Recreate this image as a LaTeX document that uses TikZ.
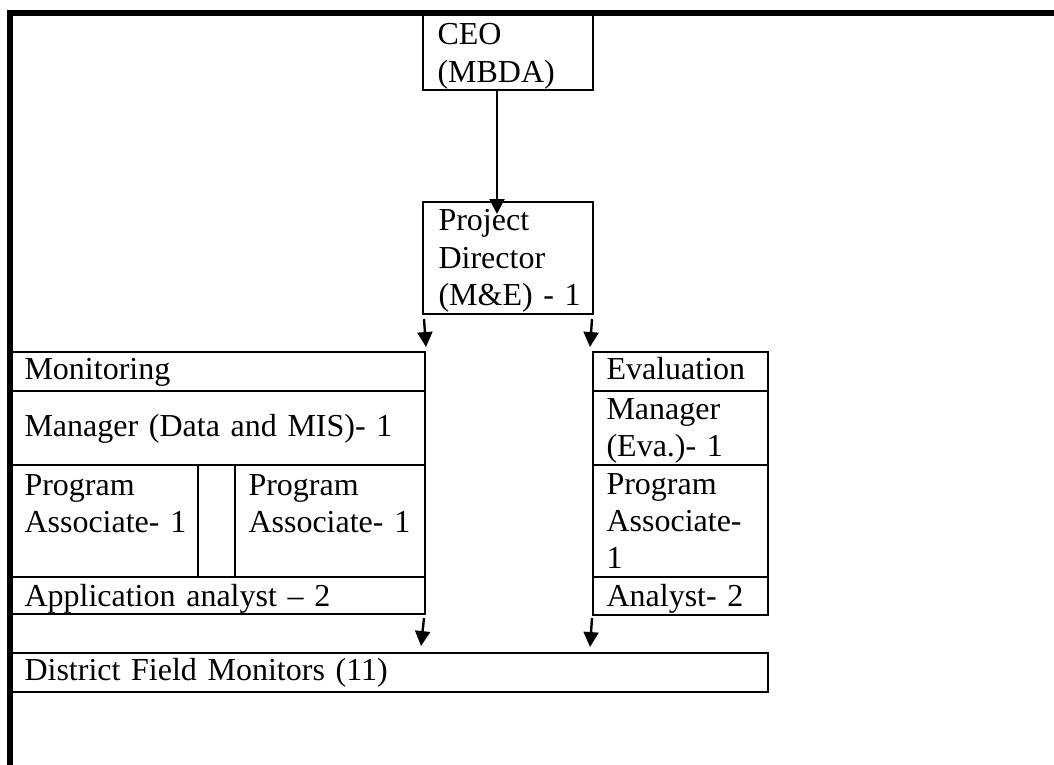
\documentclass[tikz,border=0pt]{standalone}
\usepackage{fontspec}
\setmainfont{Liberation Serif}
\usetikzlibrary{arrows.meta,fit}
\tikzset{
  cell/.style={draw,line width=0.75pt,inner sep=0pt,rectangle},
  txt/.style={anchor=base west,inner sep=0pt,text width=160pt,align=left,font=\fontsize{12}{13.9}\selectfont},
  arr/.style={line width=0.9pt,-{Triangle[width=5.6pt,length=5.6pt]}}
}
\begin{document}
\begin{tikzpicture}[x=0.375pt,y=-0.375pt]
  \useasboundingbox (0,0) rectangle (1054,765);
  % top boxes
  \node[cell,fit={(423,13) (593,90)}] (ceo) {};
  \node[cell,fit={(423,202) (593,314)}] (pd) {};
  % monitoring block
  \node[cell,fit={(10,352) (425,391)}] (mon) {};
  \node[cell,fit={(10,391) (425,465)}] (mman) {};
  \node[cell,fit={(10,465) (198,577)}] (pa1) {};
  \node[cell,fit={(198,465) (235,577)}] (gap) {};
  \node[cell,fit={(235,465) (425,577)}] (pa2) {};
  \node[cell,fit={(10,577) (425,614)}] (app) {};
  % evaluation block
  \node[cell,fit={(593,352) (768,391)}] (eva) {};
  \node[cell,fit={(593,391) (768,465)}] (eman) {};
  \node[cell,fit={(593,465) (768,577)}] (epa) {};
  \node[cell,fit={(593,577) (768,615)}] (ean) {};
  \node[cell,fit={(10,653) (768,692)}] (dfm) {};
  % texts
  \node[txt] at ([shift={(15,33)}]ceo.north west) {CEO\\(MBDA)};
  \node[txt] at ([shift={(16,30)}]pd.north west) {Project\\Director\\(M\&E) - 1};
  \node[txt] at ([shift={(15,28)}]mon.north west) {Monitoring};
  \node[txt] at ([shift={(15,46)}]mman.north west) {Manager (Data and MIS)- 1};
  \node[txt] at ([shift={(15,31)}]pa1.north west) {Program\\Associate- 1};
  \node[txt] at ([shift={(14,31)}]pa2.north west) {Program\\Associate- 1};
  \node[txt] at ([shift={(15,30)}]app.north west) {Application analyst -- 2};
  \node[txt] at ([shift={(14,28)}]eva.north west) {Evaluation};
  \node[txt] at ([shift={(14,29)}]eman.north west) {Manager\\(Eva.)- 1};
  \node[txt] at ([shift={(14,30)}]epa.north west) {Program\\Associate-\\1};
  \node[txt] at ([shift={(14,30)}]ean.north west) {Analyst- 2};
  \node[txt] at ([shift={(15,28)}]dfm.north west) {District Field Monitors (11)};
  % arrows
  \draw[arr] ([shift={(-11,0)}]ceo.south) -- ([shift={(-11,13)}]pd.north);
  \draw[arr] ([shift={(2,4)}]pd.south west) -- ([shift={(0,-4)}]mon.north east);
  \draw[arr] ([shift={(-2,4)}]pd.south east) -- ([shift={(-2,-4)}]eva.north west);
  \draw[arr] ([shift={(-2,3)}]app.south east) -- ([shift={(412,-6)}]dfm.north west);
  \draw[arr] ([shift={(0,2)}]ean.south west) -- ([shift={(581,-5)}]dfm.north west);
  % frame
  \draw[line width=2.25pt] (10,765) -- (10,13) -- (1054,13);
\end{tikzpicture}
\end{document}
